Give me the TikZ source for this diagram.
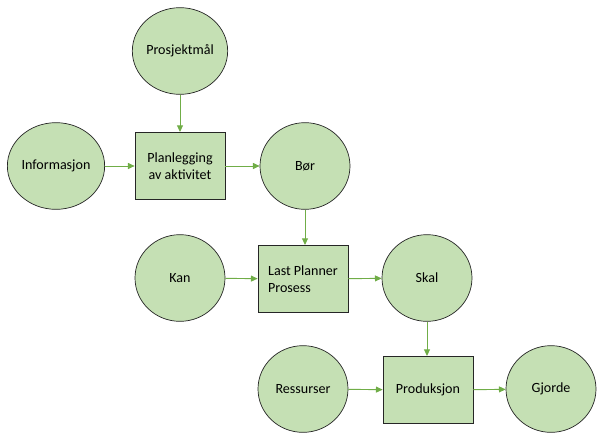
\documentclass[tikz,border=0pt]{standalone}
\usepackage{fontspec}
\setmainfont{Carlito}
\usepackage{tikz}
\usetikzlibrary{shapes,arrows.meta,positioning,calc}
\usepackage{xcolor}
\definecolor{lightgreen}{RGB}{197,224,180}
\definecolor{arrowgreen}{RGB}{112,173,71}

\begin{document}
\begin{tikzpicture}[x=0.03cm, y=-0.03cm,
                    every node/.style={font=\fontsize{12}{15}\selectfont},
                    state/.style={ellipse, draw=black!85, fill=lightgreen, line width=0.6pt, minimum width=2.7cm, minimum height=2.6cm, inner sep=0pt},
                    proc/.style={rectangle, draw=black!85, fill=lightgreen, line width=0.6pt, minimum width=2.7cm, minimum height=2.02cm},
                    flow/.style={draw=arrowgreen, line width=0.8pt, -{Triangle[length=2mm,width=1.8mm]}}]
                    \useasboundingbox (0,0) rectangle (611,439);

                    % Row 0
                    \node[state] (maal) at (180,51) {Prosjektmål};

                    % Row 1
                    \node[state] (info) at (56,166) {Informasjon};
                    \node[proc, align=center] (plan) at (180,166) {Planlegging\\ av aktivitet};
                    \node[state] (bor) at (305,166) {Bør};

                    % Row 2
                    \node[state] (kan) at (180,278) {Kan};
                    \node[proc, align=left] (lpp) at (303,279) {Last Planner\\Prosess};
                    \node[state] (skal) at (427,278) {Skal};

                    % Row 3
                    \node[state] (ress) at (303,389) {Ressurser};
                    \node[proc] (prod) at (428,390) {Produksjon};
                    \node[state] (gjorde) at (551,389) {Gjorde};

                    % Connectors
                    \draw[flow] (maal) -- (plan);
                    \draw[flow] (info) -- (plan);
                    \draw[flow] (plan) -- (bor);
                    \draw[flow] (bor.south) -- (bor.south |- lpp.north);
                    \draw[flow] (kan) -- (lpp);
                    \draw[flow] (lpp) -- (skal);
                    \draw[flow] (skal.south) -- (skal.south |- prod.north);
                    \draw[flow] (ress) -- (prod);
                    \draw[flow] (prod) -- (gjorde);
                \end{tikzpicture}
\end{document}
